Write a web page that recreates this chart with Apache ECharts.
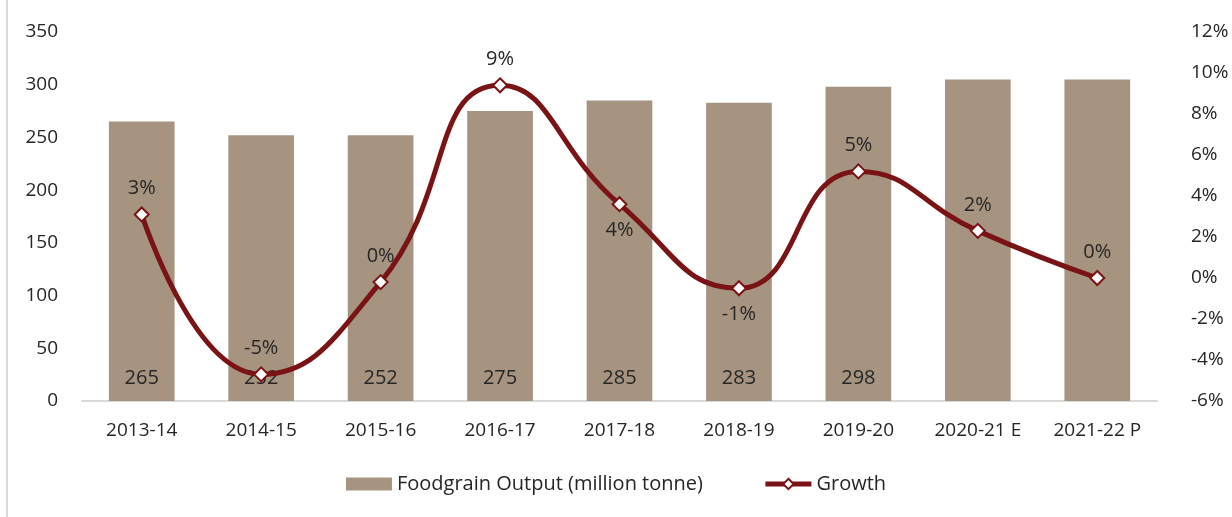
<!DOCTYPE html>
<html>
<head>
<meta charset="utf-8">
<script src="https://cdn.jsdelivr.net/npm/echarts@6/dist/echarts.min.js"></script>
<style>
  html, body { margin: 0; padding: 0; background: #fff; }
  #chart { width: 1232px; height: 517px; }
</style>
</head>
<body>
<div id="chart"></div>
<script>
var years = ['2013-14', '2014-15', '2015-16', '2016-17', '2017-18', '2018-19', '2019-20', '2020-21 E', '2021-22 P'];
var output = [265, 252, 252, 275, 285, 283, 298, 305, 305];
var outputLabels = ['265', '252', '252', '275', '285', '283', '298', '', ''];
var growth = [3.1, -4.7, -0.2, 9.4, 3.6, -0.5, 5.2, 2.3, 0.0];
var growthLabels = ['3%', '-5%', '0%', '9%', '4%', '-1%', '5%', '2%', '0%'];
var growthLabelPos = ['top', 'top', 'top', 'top', 'bottom', 'bottom', 'top', 'top', 'top'];

var font = 'Open Sans';
var textColor = '#262626';
var lineColor = '#7a1315';

var lineData = [];
for (var i = 0; i < growth.length; i++) {
  lineData.push({
    value: growth[i],
    label: { position: growthLabelPos[i] }
  });
}

var chart = echarts.init(document.getElementById('chart'));
var option = {
  animation: false,
  textStyle: { fontFamily: font },
  graphic: [
    {
      type: 'line',
      shape: { x1: 7, y1: 0, x2: 7, y2: 517 },
      style: { stroke: '#d9d9d9', lineWidth: 2 }
    }
  ],
  grid: { left: 82, right: 75, top: 32, bottom: 116 },
  legend: {
    bottom: 18,
    left: 'center',
    itemGap: 60,
    itemWidth: 46,
    itemHeight: 13,
    textStyle: { fontFamily: font, fontSize: 20, color: textColor },
    data: [
      { name: 'Foodgrain Output (million tonne)', icon: 'rect' },
      { name: 'Growth', lineStyle: { width: 5 } }
    ]
  },
  xAxis: {
    type: 'category',
    data: years,
    axisLine: { lineStyle: { color: '#d9d9d9', width: 2 } },
    axisTick: { show: false },
    axisLabel: { interval: 0, fontFamily: font, fontSize: 19, color: textColor, margin: 20 }
  },
  yAxis: [
    {
      type: 'value',
      min: 0,
      max: 350,
      interval: 50,
      splitLine: { show: false },
      axisLine: { show: false },
      axisTick: { show: false },
      axisLabel: { fontFamily: font, fontSize: 19, color: textColor, margin: 24 }
    },
    {
      type: 'value',
      min: -6,
      max: 12,
      interval: 2,
      splitLine: { show: false },
      axisLine: { show: false },
      axisTick: { show: false },
      axisLabel: {
        fontFamily: font, fontSize: 19, color: textColor, margin: 34,
        formatter: function (v) { return v + '%'; }
      }
    }
  ],
  series: [
    {
      name: 'Foodgrain Output (million tonne)',
      type: 'bar',
      data: output,
      barWidth: '55%',
      itemStyle: { color: '#a69481' },
      label: {
        show: true,
        position: 'insideBottom',
        distance: 13,
        fontFamily: font,
        fontSize: 20,
        color: textColor,
        formatter: function (p) { return outputLabels[p.dataIndex]; }
      }
    },
    {
      name: 'Growth',
      type: 'line',
      yAxisIndex: 1,
      data: lineData,
      smooth: 0.5,
      symbol: 'diamond',
      symbolSize: 14,
      showAllSymbol: true,
      lineStyle: { color: lineColor, width: 5 },
      itemStyle: { color: '#ffffff', borderColor: lineColor, borderWidth: 2 },
      label: {
        show: true,
        distance: 8,
        fontFamily: font,
        fontSize: 20,
        color: textColor,
        formatter: function (p) { return growthLabels[p.dataIndex]; }
      },
      z: 5
    }
  ]
};
chart.setOption(option);
</script>
</body>
</html>
